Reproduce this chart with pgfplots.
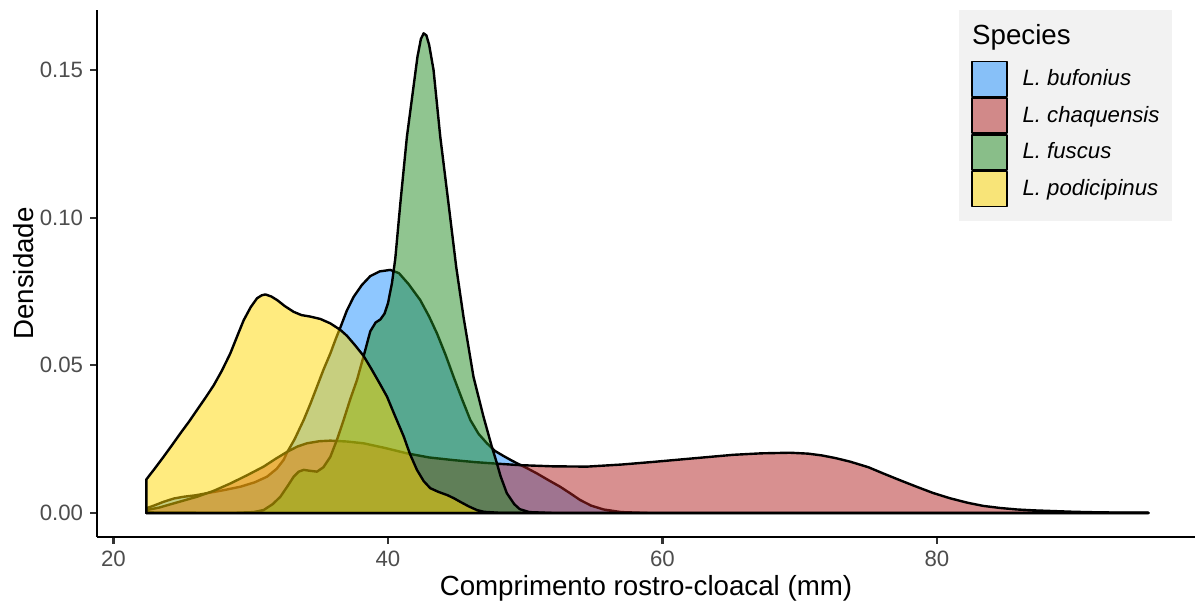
\documentclass[border=0pt]{standalone}
\usepackage{fontspec}
\setmainfont{Liberation Sans}
\usepackage{pgfplots}
\pgfplotsset{compat=1.18}
\definecolor{cblue}{RGB}{30,144,255}
\definecolor{cred}{RGB}{178,34,34}
\definecolor{cgreen}{RGB}{34,139,34}
\definecolor{cyellow}{RGB}{255,215,0}
\definecolor{legbg}{RGB}{242,242,242}
\definecolor{ticklab}{RGB}{77,77,77}
\definecolor{tickcol}{RGB}{51,51,51}
\begin{document}
\begin{tikzpicture}
\useasboundingbox (0,0) rectangle (599pt,300.5pt);
\begin{axis}[
  at={(48.5pt,32pt)}, anchor=south west,
  scale only axis, width=549pt, height=263.5pt,
  xmin=18.8, xmax=98.8, ymin=-0.00813, ymax=0.1703,
  axis x line=bottom, axis y line=left,
  axis line style={-, line width=1.1pt, black},
  xtick={20,40,60,80}, ytick={0,0.05,0.1,0.15},
  yticklabel style={/pgf/number format/.cd, fixed, fixed zerofill, precision=2},
  /pgf/number format/assume math mode=true,
  tick align=outside, major tick length=3.45pt,
  tick style={tickcol, line width=1.1pt},
  ticklabel style={font=\fontsize{11.1}{13}\selectfont, text=ticklab},
  xlabel={Comprimento rostro-cloacal (mm)}, ylabel={Densidade},
  label style={font=\fontsize{13.85}{16}\selectfont},
  xlabel style={at={(axis description cs:0.5,-0.1101)}, anchor=base},
  ylabel style={at={(axis description cs:-0.058,0.5)}, anchor=base, rotate=0},
  legend style={at={(0.979,1)}, anchor=north east, fill=legbg, draw=none,
    inner xsep=6pt, inner ysep=7pt, row sep=0.1pt, column sep=7.5pt,
    nodes={inner sep=0pt}, font=\fontsize{11.1}{13}\selectfont},
  legend cell align=left,
  legend image code/.code={\draw[#1, draw=black, line width=0.75pt] (0pt,-8.75pt) rectangle (17.5pt,8.75pt);},
  every axis plot/.append style={draw=black, line width=1.2pt, fill opacity=0.5, line join=round},
]
\addlegendimage{empty legend}
\addlegendentry{\hspace*{-25.2pt}\raisebox{6.5pt}{\fontsize{13.85}{16}\selectfont Species}}
% L. bufonius
\addplot[fill=cblue] table {
x y
22.4 0
22.4 0.0016
23.0 0.0026
23.66 0.0038
24.4 0.0049
25.12 0.0055
26.0 0.0060
26.8 0.0067
28.0 0.0077
29.25 0.0089
30.3 0.0104
31.19 0.0123
31.9 0.0150
32.4 0.0180
32.65 0.0205
33.2 0.0250
33.86 0.0315
34.35 0.0370
34.83 0.0428
35.3 0.0485
35.8 0.0540
36.2 0.0590
36.53 0.0628
37.0 0.0685
37.5 0.0732
38.1 0.0772
38.71 0.0802
39.4 0.0818
40.17 0.0823
40.8 0.0812
41.5 0.0775
42.35 0.0721
43.0 0.0665
43.57 0.0608
44.2 0.0535
44.78 0.0461
45.4 0.0385
46.0 0.0315
46.6 0.0268
47.21 0.0236
47.8 0.0210
48.42 0.0193
49.0 0.0178
49.5 0.0166
50.2 0.0150
50.85 0.0134
51.7 0.0111
52.54 0.0089
53.3 0.0066
54.0 0.0044
54.8 0.0025
55.7 0.0012
57.0 0.0003
59.0 0
95.4 0
} -- cycle;
\addlegendentry{\textit{L. bufonius}}
% L. chaquensis
\addplot[fill=cred] table {
x y
22.4 0
22.4 0.0010
23.3 0.0018
24.2 0.0030
25.1 0.0042
26.09 0.0055
27.3 0.0075
28.52 0.0100
29.7 0.0127
30.94 0.0157
31.8 0.0183
32.65 0.0207
33.4 0.0225
34.1 0.0236
35.0 0.0243
35.8 0.0245
37.0 0.0242
38.22 0.0236
39.8 0.0220
41.38 0.0202
43.0 0.0188
44.78 0.0179
46.4 0.0172
47.94 0.0167
49.63 0.0162
52.0 0.0158
54.5 0.0157
57.0 0.0164
59.34 0.0173
62.0 0.0184
65.16 0.0197
67.2 0.0202
69.3 0.0204
70.6 0.0201
71.6 0.0195
72.6 0.0186
73.66 0.0174
75.0 0.0155
76.08 0.0134
77.3 0.0111
78.51 0.0089
79.7 0.0068
80.94 0.0050
82.2 0.0035
83.37 0.0024
84.6 0.0017
85.8 0.0012
87.0 0.0009
88.2 0.0007
90.0 0.0004
92.0 0.0002
95.4 0.0001
95.4 0
} -- cycle;
\addlegendentry{\textit{L. chaquensis}}
% L. fuscus
\addplot[fill=cgreen] table {
x y
22.4 0
22.4 0.0002
26.0 0.0001
29.0 0.0001
30.2 0.0003
30.94 0.0010
31.6 0.0030
32.16 0.0055
32.7 0.0092
33.13 0.0123
33.5 0.0140
33.86 0.0146
34.3 0.0143
34.83 0.0140
35.3 0.0155
35.8 0.0190
36.3 0.0250
36.77 0.0315
37.25 0.0385
37.74 0.0450
38.22 0.0530
38.71 0.0615
39.1 0.0645
39.44 0.0655
39.75 0.0675
40.0 0.0710
40.29 0.0778
40.53 0.0860
40.9 0.1048
41.38 0.1274
41.86 0.1443
42.15 0.1545
42.4 0.1605
42.6 0.1624
42.8 0.1617
43.0 0.1585
43.32 0.1500
43.81 0.1274
44.41 0.1048
44.97 0.0834
45.5 0.0665
46.23 0.0461
46.96 0.0326
47.57 0.0224
47.94 0.0168
48.2 0.0125
48.66 0.0067
49.2 0.0030
49.6 0.0013
50.3 0.0003
52.0 0
95.4 0
} -- cycle;
\addlegendentry{\textit{L. fuscus}}
% L. podicipinus
\addplot[fill=cyellow] table {
x y
22.4 0
22.4 0.0114
23.0 0.0150
23.66 0.0191
24.3 0.0232
24.88 0.0270
25.5 0.0309
26.09 0.0349
26.7 0.0390
27.3 0.0432
27.9 0.0482
28.52 0.0541
29.0 0.0597
29.49 0.0653
30.0 0.0697
30.46 0.0727
30.8 0.0737
31.07 0.0740
31.5 0.0733
31.92 0.0721
32.5 0.0700
33.13 0.0681
33.7 0.0670
34.34 0.0665
35.07 0.0657
35.8 0.0642
36.53 0.0620
37.01 0.0600
37.6 0.0568
38.22 0.0532
38.8 0.0487
39.44 0.0435
39.93 0.0394
40.5 0.0330
41.14 0.0260
41.6 0.0200
42.11 0.0146
42.6 0.0108
43.08 0.0084
43.7 0.0071
44.3 0.0061
44.8 0.0050
45.26 0.0038
45.9 0.0022
46.48 0.0010
47.0 0.0004
48.0 0.0001
50.0 0
95.4 0
} -- cycle;
\addlegendentry{\textit{L. podicipinus}}
\end{axis}
\end{tikzpicture}
\end{document}
